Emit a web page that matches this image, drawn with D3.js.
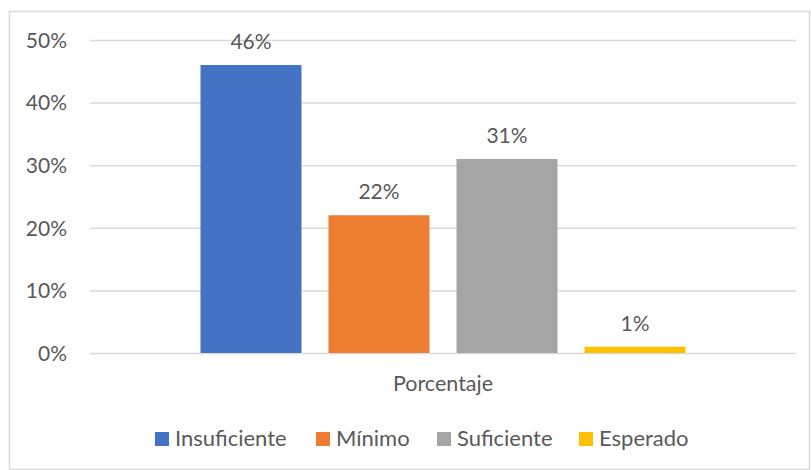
<!DOCTYPE html>
<html>
<head>
<meta charset="utf-8">
<script src="https://cdn.jsdelivr.net/npm/d3@7"></script>
<style>
  body { margin: 0; background: #fff; }
  svg text { font-family: Lato, "Open Sans", sans-serif; fill: #595959; }
</style>
</head>
<body>
<div id="chart"></div>
<script>
// data
var category = "Porcentaje";
var seriesNames = ["Insuficiente", "Mínimo", "Suficiente", "Esperado"];
var seriesValues = [0.46, 0.22, 0.31, 0.01];
var seriesColors = ["#4472C4", "#ED7D31", "#A5A5A5", "#FFC000"];
var yTicks = [0, 0.1, 0.2, 0.3, 0.4, 0.5];

var W = 811, H = 470;
var margin = {top: 40, right: 15, bottom: 117, left: 90},
    width = 796 - margin.left,
    height = 353 - margin.top;

var svg = d3.select("#chart")
  .append("svg")
    .attr("width", W)
    .attr("height", H);

// outer chart border
svg.append("rect")
  .attr("x", 9.5).attr("y", 11.5)
  .attr("width", W - 11).attr("height", H - 12)
  .attr("fill", "#fff")
  .attr("stroke", "#D9D9D9")
  .attr("stroke-width", 1.5);

var g = svg.append("g")
  .attr("transform", "translate(" + margin.left + "," + margin.top + ")");

var y = d3.scaleLinear()
  .domain([0, 0.5])
  .range([height, 0]);

// one category, group of 4 bars in the middle
var x0 = d3.scaleBand()
  .domain([category])
  .range([0, width])
  .paddingInner(0)
  .paddingOuter(0.2278);

var x1 = d3.scaleBand()
  .domain(seriesNames)
  .range([0, x0.bandwidth()])
  .paddingInner(0.211)
  .paddingOuter(0);

// gridlines + tick labels
var yAxis = d3.axisLeft(y)
  .tickValues(yTicks)
  .tickSize(-width)
  .tickPadding(23)
  .tickFormat(d3.format(".0%"));

g.append("g")
  .call(yAxis)
  .call(function(a) {
    a.select(".domain").remove();
    a.selectAll("line").attr("stroke", "#D9D9D9").attr("stroke-width", 1.5);
    a.selectAll("text").attr("font-size", "21px").attr("fill", "#595959").attr("dy", "0.35em");
  });

var bars = seriesNames.map(function(name, i) {
  return {name: name, value: seriesValues[i], color: seriesColors[i]};
});

g.selectAll(".bar")
  .data(bars)
  .join("rect")
    .attr("class", "bar")
    .attr("x", function(d) { return x0(category) + x1(d.name); })
    .attr("y", function(d) { return y(d.value); })
    .attr("width", x1.bandwidth())
    .attr("height", function(d) { return height - y(d.value); })
    .attr("fill", function(d) { return d.color; });

g.selectAll(".lbl")
  .data(bars)
  .join("text")
    .attr("class", "lbl")
    .attr("x", function(d) { return x0(category) + x1(d.name) + x1.bandwidth() / 2; })
    .attr("y", function(d) { return y(d.value) - 16; })
    .attr("text-anchor", "middle")
    .attr("font-size", "21px")
    .text(function(d) { return d3.format(".0%")(d.value); });

// category label
g.append("text")
  .attr("x", x0(category) + x0.bandwidth() / 2)
  .attr("y", height + 38)
  .attr("text-anchor", "middle")
  .attr("font-size", "21.5px")
  .text(category);

// legend
var legendX = [155, 316, 437, 579];
var legend = svg.append("g");
var items = legend.selectAll("g")
  .data(bars)
  .join("g")
    .attr("transform", function(d, i) { return "translate(" + legendX[i] + ",432)"; });
items.append("rect")
  .attr("width", 14).attr("height", 14)
  .attr("fill", function(d) { return d.color; });
items.append("text")
  .attr("x", 20).attr("y", 14)
  .attr("font-size", "22px")
  .text(function(d) { return d.name; });
</script>
</body>
</html>
